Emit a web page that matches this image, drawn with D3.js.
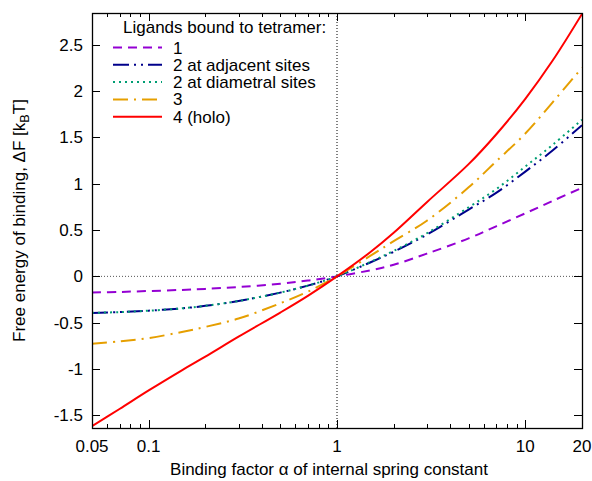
<!DOCTYPE html>
<html>
<head>
<meta charset="utf-8">
<script src="https://cdn.jsdelivr.net/npm/d3@7"></script>
<style>
  body { margin: 0; background: #fff; }
  text { font-family: "Liberation Sans", Arial, sans-serif; }
</style>
</head>
<body>
<svg id="chart"></svg>
<script>
// size and plot box
const WIDTH = 592;
const HEIGHT = 481;
const LEFT = 92, RIGHT = 582, TOP = 13, BOTTOM = 428;
const FONT = 17;

// data
const alphas = [0.05, 0.07, 0.1, 0.15, 0.2, 0.3, 0.5, 0.7, 1, 1.5, 2, 3, 5, 7, 10, 14, 20];
const one = [-0.174, -0.168, -0.158, -0.146, -0.135, -0.115, -0.08, -0.045, 0, 0.065, 0.125, 0.245, 0.41, 0.54, 0.68, 0.815, 0.955];
const twoAdjacent = [-0.394, -0.385, -0.37, -0.345, -0.318, -0.265, -0.175, -0.1, 0, 0.15, 0.265, 0.45, 0.72, 0.9, 1.13, 1.36, 1.63];
const twoDiametral = [-0.394, -0.385, -0.37, -0.345, -0.318, -0.265, -0.175, -0.1, 0, 0.155, 0.275, 0.465, 0.745, 0.94, 1.185, 1.42, 1.69];
const three = [-0.727, -0.7, -0.665, -0.6, -0.545, -0.455, -0.29, -0.165, 0, 0.22, 0.38, 0.6, 0.96, 1.24, 1.54, 1.88, 2.25];
const holo = [-1.615, -1.43, -1.23, -1.013, -0.865, -0.65, -0.39, -0.21, 0, 0.26, 0.47, 0.8, 1.21, 1.53, 1.915, 2.33, 2.83];

const seriesNames = ["1", "2 at adjacent sites", "2 at diametral sites", "3", "4 (holo)"];
const seriesValues = [one, twoAdjacent, twoDiametral, three, holo];
const seriesColors = ["#9400d3", "#00008b", "#009e73", "#e69f00", "#ff0000"];
const seriesDashes = ["9,6", "16,5,2,5,2,5", "2,4", "15,6,2,6", null];

const xMajor = [0.05, 0.1, 1, 10, 20];
const xMajorLabels = ["0.05", "0.1", "1", "10", "20"];
const xMinor = [0.06, 0.07, 0.08, 0.09, 0.2, 0.3, 0.4, 0.5, 0.6, 0.7, 0.8, 0.9, 2, 3, 4, 5, 6, 7, 8, 9];
const yTicks = [-1.5, -1, -0.5, 0, 0.5, 1, 1.5, 2, 2.5];

const xScale = d3.scaleLog([0.05, 20], [LEFT, RIGHT]);
const yScale = d3.scaleLinear([-1.635, 2.84], [BOTTOM, TOP]);

const svg = d3.select('#chart').attr('width', WIDTH).attr('height', HEIGHT);

// zero lines
svg.append('line')
    .attr('x1', LEFT).attr('x2', RIGHT)
    .attr('y1', yScale(0)).attr('y2', yScale(0))
    .attr('stroke', '#555').attr('stroke-width', 1).attr('stroke-dasharray', '1,2');
svg.append('line')
    .attr('x1', xScale(1)).attr('x2', xScale(1))
    .attr('y1', TOP).attr('y2', BOTTOM)
    .attr('stroke', '#000').attr('stroke-width', 1).attr('stroke-dasharray', '1,2');

// ticks on all four sides
const gAx = svg.append('g').attr('stroke', '#000').attr('stroke-width', 1);
xMajor.forEach(v => {
    const x = Math.round(xScale(v)) + 0.5;
    gAx.append('line').attr('x1', x).attr('x2', x).attr('y1', BOTTOM).attr('y2', BOTTOM - 8);
    gAx.append('line').attr('x1', x).attr('x2', x).attr('y1', TOP).attr('y2', TOP + 8);
});
xMinor.forEach(v => {
    const x = Math.round(xScale(v)) + 0.5;
    gAx.append('line').attr('x1', x).attr('x2', x).attr('y1', BOTTOM).attr('y2', BOTTOM - 4);
    gAx.append('line').attr('x1', x).attr('x2', x).attr('y1', TOP).attr('y2', TOP + 4);
});
yTicks.forEach(v => {
    const y = Math.round(yScale(v)) + 0.5;
    gAx.append('line').attr('x1', LEFT).attr('x2', LEFT + 8).attr('y1', y).attr('y2', y);
    gAx.append('line').attr('x1', RIGHT).attr('x2', RIGHT - 8).attr('y1', y).attr('y2', y);
});

// tick labels
svg.selectAll('.xlab').data(xMajor).enter().append('text')
    .attr('x', d => xScale(d)).attr('y', BOTTOM + 24)
    .attr('text-anchor', 'middle').attr('font-size', FONT)
    .text((d, i) => xMajorLabels[i]);
svg.selectAll('.ylab').data(yTicks).enter().append('text')
    .attr('x', LEFT - 9).attr('y', d => yScale(d) + 6)
    .attr('text-anchor', 'end').attr('font-size', FONT)
    .text(d => d);

// axis titles
svg.append('text')
    .attr('x', (LEFT + RIGHT) / 2 - 8).attr('y', HEIGHT - 6)
    .attr('text-anchor', 'middle').attr('font-size', FONT)
    .text('Binding factor \u03b1 of internal spring constant');
const yt = svg.append('text')
    .attr('transform', `translate(25,${(TOP + BOTTOM) / 2}) rotate(-90)`)
    .attr('text-anchor', 'middle').attr('font-size', FONT);
yt.append('tspan').text('Free energy of binding, \u0394F [k');
yt.append('tspan').attr('font-size', FONT * 0.75).attr('dy', 4).text('B');
yt.append('tspan').attr('dy', -4).text('T]');

// curves
svg.append('clipPath').attr('id', 'clip').append('rect')
    .attr('x', LEFT).attr('y', TOP).attr('width', RIGHT - LEFT).attr('height', BOTTOM - TOP);
const line = d3.line()
    .x(d => xScale(d[0]))
    .y(d => yScale(d[1]))
    .curve(d3.curveCatmullRom.alpha(0.5));

seriesValues.forEach((vals, i) => {
    const pts = alphas.map((a, j) => [a, vals[j]]);
    svg.append('path')
        .attr('d', line(pts))
        .attr('clip-path', 'url(#clip)')
        .attr('fill', 'none')
        .attr('stroke', seriesColors[i])
        .attr('stroke-width', 2)
        .attr('stroke-dasharray', seriesDashes[i]);
});

// legend
const leg = svg.append('g');
leg.append('text').attr('x', 123).attr('y', 33).attr('font-size', FONT)
    .text('Ligands bound to tetramer:');
seriesNames.forEach((name, i) => {
    const y = 47.5 + i * 17.3;
    leg.append('line')
        .attr('x1', 113).attr('x2', 162).attr('y1', y).attr('y2', y)
        .attr('stroke', seriesColors[i]).attr('stroke-width', 2)
        .attr('stroke-dasharray', seriesDashes[i]);
    leg.append('text').attr('x', 173).attr('y', y + 6).attr('font-size', FONT).text(name);
});

// frame
svg.append('rect')
    .attr('x', LEFT + 0.5).attr('y', TOP + 0.5)
    .attr('width', RIGHT - LEFT).attr('height', BOTTOM - TOP)
    .attr('fill', 'none').attr('stroke', '#000').attr('stroke-width', 1.3);
</script>
</body>
</html>
